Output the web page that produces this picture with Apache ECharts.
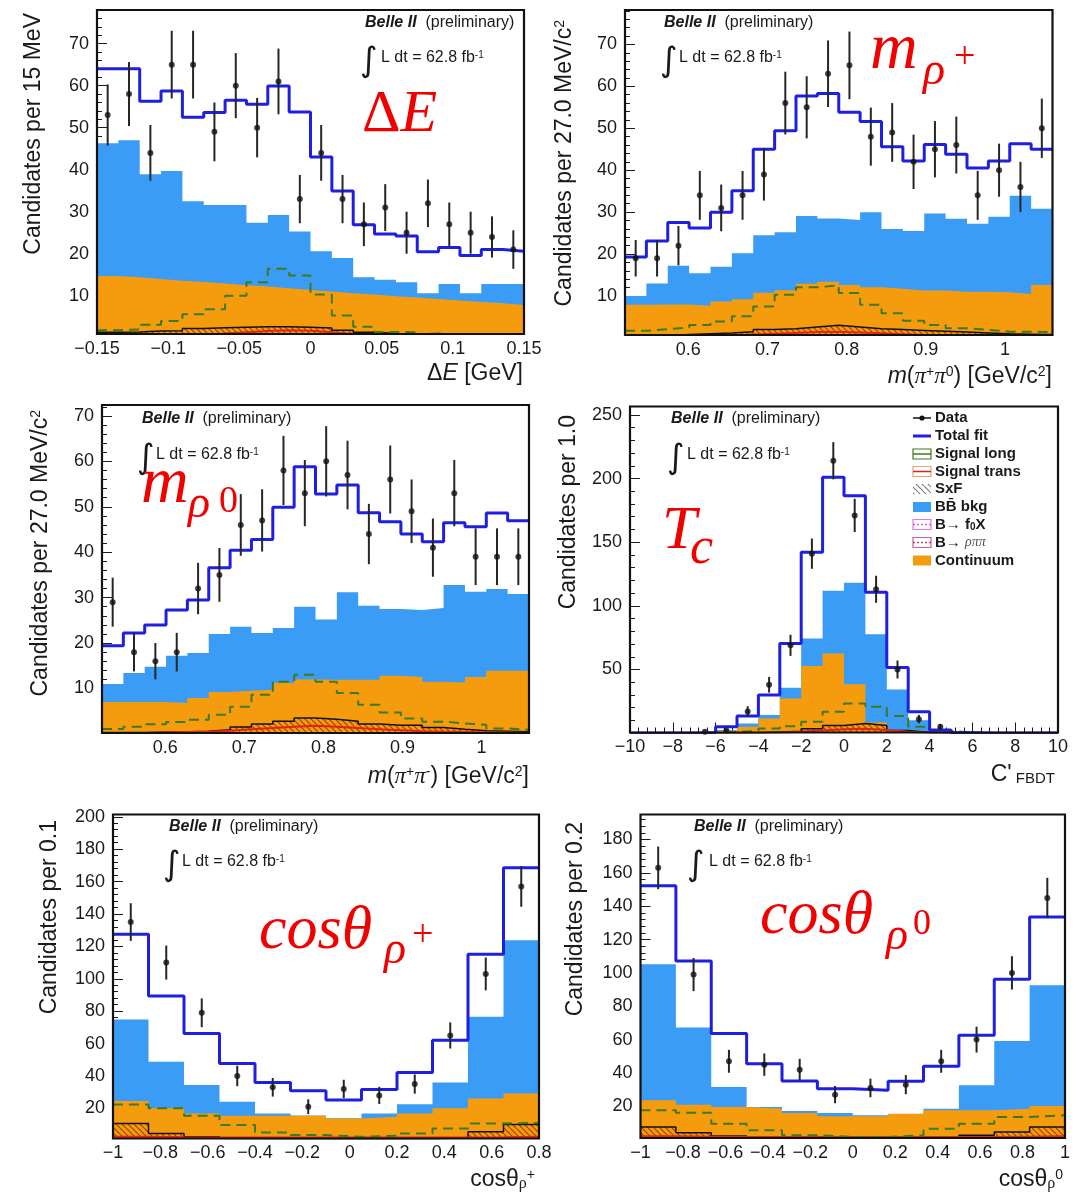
<!DOCTYPE html>
<html>
<head>
<meta charset="utf-8">
<script src="https://cdn.jsdelivr.net/npm/echarts@6/dist/echarts.min.js"></script>
<style>
html,body{margin:0;padding:0;background:#fff}
#main{width:1076px;height:1203px}
</style>
</head>
<body>
<div id="main"></div>
<script>
/** Delta E panel (20 bins, -0.15 .. 0.15 GeV) **/
var deData  = [53,58,44,65,65,49,60,50,61,33,44,33,27,31,25,32,27,25,24,21];
var deFit   = [64.0,64.0,56.3,58.7,52.5,53.6,56.5,55.6,59.9,53.7,43.0,34.9,26.9,24.7,24.2,20.5,21.5,19.6,21.0,20.6];
var deBB    = [46.3,47.0,38.9,39.7,32.5,31.6,31.6,27.4,29.2,25.3,20.6,19.0,14.4,13.8,13.2,10.6,12.8,10.6,12.8,12.8];
var deCont  = [14.7,14.4,14.0,13.6,13.3,12.9,12.5,12.2,11.8,11.4,11.0,10.6,10.3,9.9,9.6,9.2,8.9,8.5,8.2,7.8];
var deLong  = [1.8,2.0,3.1,4.0,5.6,6.8,10.0,13.2,16.4,14.8,10.3,5.3,2.6,1.4,1.3,0.8,0.6,0.5,0.4,0.3];
var deSxF   = [1.3,1.4,1.6,1.7,2.2,2.4,2.5,2.6,2.6,2.5,2.3,1.8,1.3,1.0,0.9,1.0,0.7,0.5,0.4,0.4];
var deTrans = [0.3,0.4,0.5,0.6,0.8,1.0,1.3,1.6,1.8,1.7,1.3,0.9,0.6,0.4,0.3,0.2,0.2,0.1,0.1,0.1];
var deXTicks = [-0.15,-0.1,-0.05,0,0.05,0.1,0.15];

/** m(pi+ pi0) panel (20 bins, 0.52 .. 1.06) **/
var mpData  = [19,19,22,34,31,34,39,56,55,63,65,48,49,42,45,46,34,40,36,50];
var mpFit   = [19.3,23.1,27.5,26.2,30.0,35.1,45.0,49.4,57.7,58.3,53.8,51.6,45.6,42.2,46.1,43.8,40.5,42.2,46.3,45.0];
var mpBB    = [10.0,13.0,17.2,15.4,17.0,20.2,24.5,25.2,29.1,28.5,28.1,30.0,26.0,25.5,29.7,28.4,27.2,28.9,33.9,30.8];
var mpCont  = [7.9,8.0,8.0,7.7,8.7,9.2,10.8,11.4,12.9,13.4,12.6,12.1,11.7,11.3,11.3,11.0,11.0,10.9,10.5,12.6];
var mpLong  = [1.7,2.1,2.5,3.1,3.9,5.2,7.5,10.3,12.1,12.5,10.7,7.9,5.9,4.1,3.1,2.3,1.9,1.5,1.5,1.4];
var mpSxF   = [0.5,0.6,0.8,1.0,1.2,1.5,2.0,2.2,2.6,3.0,2.6,2.2,2.0,1.8,1.6,1.4,1.2,1.0,0.9,0.8];
var mpTrans = [0.3,0.3,0.4,0.5,0.6,0.8,1.0,1.2,1.4,1.5,1.3,1.1,0.9,0.7,0.6,0.5,0.4,0.4,0.3,0.3];

/** m(pi+ pi-) panel (20 bins, 0.52 .. 1.06) **/
var mzData  = [29,18,16,18,32,35,46,47,58,53,60,57,44,56,49,41,53,39,39,39];
var mzFit   = [19.4,22.2,24.0,27.3,29.5,36.6,40.4,42.8,49.9,58.8,52.8,54.8,48.7,46.7,44.0,42.3,46.5,45.6,48.6,46.9];
var mzBB    = [11.0,13.4,14.8,17.2,17.8,22.0,23.6,22.2,23.3,28.0,25.2,31.2,28.2,27.5,27.3,27.7,32.8,31.3,31.9,30.8];
var mzCont  = [7.0,7.0,7.0,6.8,7.9,9.2,9.5,9.7,11.2,12.0,11.9,11.9,11.9,12.8,12.5,11.5,11.3,12.5,13.9,13.9];
var mzLong  = [1.1,1.6,2.1,2.6,3.1,4.2,6.0,8.6,11.5,13.0,11.5,9.0,6.4,4.7,3.4,2.7,2.3,2.0,1.2,0.9];
var mzSxF   = [0.3,0.3,0.4,0.5,0.6,0.9,1.5,2.2,2.8,3.5,3.2,2.8,2.2,1.9,1.9,1.4,1.0,0.7,0.6,0.5];
var mzTrans = [0.2,0.2,0.3,0.4,0.5,0.7,1.0,1.3,1.6,1.8,1.6,1.3,1.0,0.8,0.6,0.5,0.4,0.3,0.3,0.2];
var mXTicks = [0.6,0.7,0.8,0.9,1];
var mYTicks = [10,20,30,40,50,60,70];

/** C'FBDT panel (20 bins, -10 .. 10) **/
var tcData  = [0,0,0,1,2,17,38,69,141,214,171,113,50,11,5,0,0,0,0,0];
var tcFit   = [0,0,0,0.5,5.0,13.4,29.9,70.5,142.1,201.0,186.4,110.6,51.6,16.8,2.4,0.3,0,0,0,0];
var tcBB    = [0,0,0,0.3,2.4,7.6,14.2,35.6,74.4,111.9,118.2,77.6,34.3,10.2,1.8,0.2,0,0,0,0];
var tcCont  = [0,0,0,0.2,1.8,5.0,11.5,27.3,52.7,62.6,38.5,8.4,2.4,1.0,0.5,0,0,0,0,0];
var tcLong  = [0,0,0,0.2,0.8,1.8,3.7,5.5,8.9,16.8,23.3,20.7,13.4,5.0,1.8,0.3,0,0,0,0];
var tcSxF   = [0,0,0,0,0,0.3,0.8,1.5,3.5,6.0,7.5,6.0,2.0,0.5,0,0,0,0,0,0];
var tcTrans = [0,0,0,0,0,0.2,0.5,1.0,2.0,3.0,3.5,2.5,1.0,0.3,0,0,0,0,0,0];
var tcXTicks = [-10,-8,-6,-4,-2,0,2,4,6,8,10];
var tcYTicks = [50,100,150,200,250];

/** cos theta rho+ panel (12 bins, -1 .. 0.8) **/
var cpData  = [135,110,79,40,33,21,32,28,35,65,103,157];
var cpFit   = [127.5,89.3,66.2,47.7,36.0,30.9,25.1,31.7,42.2,62.1,115.2,168.5];
var cpBB    = [74.9,48.8,34.4,24.1,16.9,15.6,13.9,16.9,22.6,36.0,76.5,123.8];
var cpCont  = [24.5,20.0,16.9,15.4,15.4,15.4,13.8,14.8,16.9,20.0,26.1,29.2];
var cpLong  = [22.4,20.0,15.4,9.7,5.1,3.5,2.5,3.1,4.5,7.6,10.7,11.1];
var cpSxF   = [10.7,4.5,2.5,1.2,0.8,0.6,0.6,0.6,1.0,2.0,5.6,10.1];
var cpTrans = [2.5,2.2,2.0,2.0,2.0,2.0,2.0,2.0,2.0,2.0,2.2,2.5];
var cpXTicks = [-1,-0.8,-0.6,-0.4,-0.2,0,0.2,0.4,0.6,0.8];
var cpYTicks = [20,40,60,80,100,120,140,160,180,200];

/** cos theta rho0 panel (12 bins, -1 .. 1) **/
var czData  = [163,99,47,45,42,27,31,33,47,60,100,145];
var czFit   = [152.2,107.2,63.6,45.6,35.2,30.6,29.6,35.0,44.0,62.6,96.2,133.6];
var czBB    = [105.2,67.2,31.6,19.6,17.2,16.0,14.6,15.6,18.6,32.6,59.2,92.6];
var czCont  = [23.6,21.0,19.6,18.6,16.0,14.0,14.0,15.6,17.6,17.6,18.6,20.2];
var czLong  = [17.6,16.2,9.6,5.6,2.6,1.6,1.6,2.6,6.6,9.6,13.6,14.6];
var czSxF   = [7.6,4.2,2.2,1.0,0.8,0.6,0.6,0.8,1.0,2.6,4.6,7.6];
var czTrans = [2.0,1.8,1.6,1.6,1.6,1.6,1.6,1.6,1.6,1.6,1.8,2.0];
var czXTicks = [-1,-0.8,-0.6,-0.4,-0.2,0,0.2,0.4,0.6,0.8,1];
var czYTicks = [20,40,60,80,100,120,140,160,180];

var legendNames = ['Data','Total fit','Signal long','Signal trans','SxF','BB\u0304 bkg','B\u2192 f{sub|0}X','B\u2192 {g|\u03c1\u03c0\u03c0}','Continuum'];

var SANS = '"Liberation Sans", Arial, Helvetica, sans-serif';
var SERIF = '"Liberation Serif", "DejaVu Serif", serif';
var INK = '#1a1a1a';
var C_BB = '#3a9cf4', C_CONT = '#f59c0e', C_FIT = '#1f1fe0', C_LONG = '#3c7a1e', C_TRANS = '#e2231a', C_RED = '#f20000';

function makeHatch(color){
    var c = document.createElement('canvas');
    c.width = 6; c.height = 6;
    var g = c.getContext('2d');
    g.strokeStyle = color; g.lineWidth = 1.1;
    g.beginPath();
    [-6,0,6].forEach(function(o){ g.moveTo(o,0); g.lineTo(o+6,6); });
    g.stroke();
    return c;
}
var hatch = makeHatch('#9c3d00');
var greyHatch = makeHatch('#777');

var panels = [
    {box:[97,10,427,324], lo:-0.15, hi:0.15, n:20, ymin:0.9, ymax:78, xTicks:deXTicks, xMinor:0.01, yTicks:mYTicks, yMinor:2,
     data:deData, fit:deFit, bb:deBB, cont:deCont, sxf:deSxF, trans:deTrans, sig:deLong},
    {box:[625,10,427.5,325], lo:0.52, hi:1.06, n:20, ymin:0.7, ymax:78.2, xTicks:mXTicks, xMinor:0.02, yTicks:mYTicks, yMinor:2,
     data:mpData, fit:mpFit, bb:mpBB, cont:mpCont, sxf:mpSxF, trans:mpTrans, sig:mpLong},
    {box:[102,405,427,328], lo:0.52, hi:1.06, n:20, ymin:0.2, ymax:72.4, xTicks:mXTicks, xMinor:0.02, yTicks:mYTicks, yMinor:2,
     data:mzData, fit:mzFit, bb:mzBB, cont:mzCont, sxf:mzSxF, trans:mzTrans, sig:mzLong},
    {box:[630,406.5,428,326], lo:-10, hi:10, n:20, ymin:0.5, ymax:256.6, xTicks:tcXTicks, xMinor:0.4, yTicks:tcYTicks, yMinor:10,
     data:tcData, fit:tcFit, bb:tcBB, cont:tcCont, sxf:tcSxF, trans:tcTrans, sig:tcLong},
    {box:[113,814.5,426,324], lo:-1, hi:0.8, n:12, ymin:1.4, ymax:201.4, xTicks:cpXTicks, xMinor:0.04, yTicks:cpYTicks, yMinor:4,
     data:cpData, fit:cpFit, bb:cpBB, cont:cpCont, sxf:cpSxF, trans:cpTrans, sig:cpLong},
    {box:[640.5,814.5,424.5,323.5], lo:-1, hi:1, n:12, ymin:1, ymax:195, xTicks:czXTicks, xMinor:0.04, yTicks:czYTicks, yMinor:4,
     data:czData, fit:czFit, bb:czBB, cont:czCont, sxf:czSxF, trans:czTrans, sig:czLong}
];

function binEdges(lo, hi, n){
    var e = [];
    for (var i = 0; i <= n; i++) e.push(lo + (hi - lo) * i / n);
    return e;
}
function stepData(ed, vals){
    var d = vals.map(function(v, i){ return [ed[i], v]; });
    d.push([ed[ed.length - 1], vals[vals.length - 1]]);
    return d;
}
function minorVals(min, max, step){
    var out = [];
    for (var v = Math.ceil(min / step - 1e-9) * step; v <= max + 1e-9; v += step) out.push(+v.toFixed(4));
    return out;
}
function tickLabel(v){ return String(+(+v).toFixed(3)).replace('-', '\u2212'); }

var option = {animation:false, backgroundColor:'#fff', grid:[], xAxis:[], yAxis:[], series:[], graphic:[]};
var noLine = {show:false, onZero:false};

panels.forEach(function(p, k){
    option.grid.push({left:p.box[0], top:p.box[1], width:p.box[2], height:p.box[3]});
    var lbl = {fontSize:18, fontFamily:SANS, color:INK, formatter:tickLabel};
    var tk = {lineStyle:{color:INK, width:1}};
    option.xAxis.push({gridIndex:k, type:'value', position:'bottom', min:p.lo, max:p.hi, splitLine:{show:false}, axisLine:noLine,
        axisTick:Object.assign({show:true, inside:true, length:10, customValues:p.xTicks}, tk),
        axisLabel:Object.assign({customValues:p.xTicks, margin:6}, lbl)});
    option.xAxis.push({gridIndex:k, type:'value', position:'bottom', min:p.lo, max:p.hi, splitLine:{show:false}, axisLine:noLine,
        axisTick:Object.assign({show:true, inside:true, length:5, customValues:minorVals(p.lo, p.hi, p.xMinor)}, tk),
        axisLabel:{show:false}});
    option.yAxis.push({gridIndex:k, type:'value', position:'left', min:p.ymin, max:p.ymax, splitLine:{show:false}, axisLine:noLine,
        axisTick:Object.assign({show:true, inside:true, length:10, customValues:p.yTicks}, tk),
        axisLabel:Object.assign({customValues:p.yTicks, margin:8}, lbl)});
    option.yAxis.push({gridIndex:k, type:'value', position:'left', min:p.ymin, max:p.ymax, splitLine:{show:false}, axisLine:noLine,
        axisTick:Object.assign({show:true, inside:true, length:5, customValues:minorVals(p.ymin, p.ymax, p.yMinor)}, tk),
        axisLabel:{show:false}});

    var ed = binEdges(p.lo, p.hi, p.n);
    var ax = {xAxisIndex:2 * k, yAxisIndex:2 * k};
    function hist(vals, line, area, z){
        var s = Object.assign({type:'line', step:'end', symbol:'none', silent:true, data:stepData(ed, vals), lineStyle:line, z:z}, ax);
        if (area) s.areaStyle = Object.assign({opacity:1, origin:'start'}, area);
        return s;
    }
    option.series.push(hist(p.bb, {width:0}, {color:C_BB}, 1));
    option.series.push(hist(p.cont, {width:0}, {color:C_CONT}, 2));
    option.series.push(hist(p.sxf, {color:'#111', width:1.5}, {color:{image:hatch, repeat:'repeat'}}, 3));
    option.series.push(hist(p.trans, {color:C_TRANS, width:2}, null, 4));
    option.series.push(hist(p.sig, {color:C_LONG, width:2, type:[10,6]}, null, 5));
    option.series.push(hist(p.fit, {color:C_FIT, width:3}, null, 6));

    var pts = [];
    p.data.forEach(function(v, i){ if (v > 0) pts.push([(ed[i] + ed[i + 1]) / 2, v, Math.sqrt(v)]); });
    option.series.push(Object.assign({type:'custom', z:7, silent:true, data:pts,
        renderItem:function(params, api){
            var x = api.value(0), y = api.value(1), e = api.value(2);
            var a = api.coord([x, y - e]), b = api.coord([x, y + e]);
            return {type:'line', shape:{x1:a[0], y1:a[1], x2:b[0], y2:b[1]}, style:{stroke:'#262626', lineWidth:2}};
        }}, ax));
    option.series.push(Object.assign({type:'scatter', z:8, silent:true, symbol:'circle', symbolSize:6,
        itemStyle:{color:'#111'}, data:pts.map(function(q){ return [q[0], q[1]]; })}, ax));

    option.graphic.push({type:'rect', z:100, silent:true, shape:{x:p.box[0], y:p.box[1], width:p.box[2], height:p.box[3]},
        style:{fill:'none', stroke:'#111', lineWidth:2.2}});
});

/** texts **/
function T(x, y, text, o){
    o = o || {};
    return {type:'text', x:x, y:y, z:101, silent:true, rotation:o.rot || 0,
        style:{text:text, fontSize:o.fs || 16, fontFamily:o.ff || SANS, fontWeight:o.fw || 'normal', fontStyle:o.fst || 'normal',
               fill:o.fill || INK, align:o.align || 'left', verticalAlign:o.va || 'middle', rich:o.rich}};
}
var RT = {
    n:{fontSize:23, fontFamily:SANS, fill:INK},
    i:{fontSize:23, fontFamily:SANS, fontStyle:'italic', fill:INK},
    g:{fontSize:23, fontFamily:SERIF, fontStyle:'italic', fill:INK},
    s:{fontSize:14, fontFamily:SANS, fill:INK, verticalAlign:'top', lineHeight:14},
    sb:{fontSize:15, fontFamily:SANS, fill:INK, verticalAlign:'bottom', lineHeight:12},
    gb:{fontSize:16, fontFamily:SERIF, fill:INK, verticalAlign:'bottom', lineHeight:12}
};
var belleRich = {b:{fontSize:16, fontFamily:SANS, fontWeight:'bold', fontStyle:'italic', fill:INK},
                 r:{fontSize:16, fontFamily:SANS, fill:INK}};
var lumiRich = {t:{fontSize:16, fontFamily:SANS, fill:INK}, s:{fontSize:10, fontFamily:SANS, fill:INK, verticalAlign:'top', lineHeight:10}};

var G = option.graphic;
var bellePos = [[365,23],[664,23],[142,419],[671,419],[169,827],[694,827]];
var lumiPos = [[360,381,58],[660,679,58],[137,156,455],[667,687,455],[163,182,862],[687,709,862]];
bellePos.forEach(function(b){ G.push(T(b[0], b[1], '{b|Belle II}  {r|(preliminary)}', {rich:belleRich})); });
lumiPos.forEach(function(l){
    G.push(T(l[0], l[2] + 4, '\u222b', {fs:34, ff:'"DejaVu Sans", sans-serif'}));
    G.push(T(l[1], l[2], '{t|L dt = 62.8 fb}{s|-1}', {rich:lumiRich}));
});

// y-axis titles
var yTitles = [
    [34, 13, '{n|Candidates per 15 MeV}'],
    [565, 20, '{n|Candidates per 27.0 MeV/c}{s|2}'],
    [41, 410, '{n|Candidates per 27.0 MeV/c}{s|2}'],
    [569, 415, '{n|Candidates per 1.0}'],
    [50, 820, '{n|Candidates per 0.1}'],
    [576, 822, '{n|Candidates per 0.2}']
];
yTitles.forEach(function(t){ G.push(T(t[0], t[1], t[2], {rot:Math.PI / 2, align:'right', rich:RT})); });

// x-axis titles
G.push(T(523, 374, '{n|\u0394}{i|E}{n| [GeV]}', {align:'right', rich:RT}));
G.push(T(1052, 377, '{i|m}{n|(}{g|\u03c0}{s|+}{g|\u03c0}{s|0}{n|) [GeV/c}{s|2}{n|]}', {align:'right', rich:RT}));
G.push(T(529, 777, '{i|m}{n|(}{g|\u03c0}{s|+}{g|\u03c0}{s|-}{n|) [GeV/c}{s|2}{n|]}', {align:'right', rich:RT}));
G.push(T(1055, 775, '{n|C\'}{sb| FBDT}', {align:'right', rich:RT}));
G.push(T(535, 1180, '{n|cos\u03b8}{gb|\u03c1}{s|+}', {align:'right', rich:RT}));
G.push(T(1063, 1180, '{n|cos\u03b8}{gb|\u03c1}{s|0}', {align:'right', rich:RT}));

// red variable labels
var red = {fill:C_RED, ff:SERIF};
G.push(T(362, 115, '{u|\u0394}{e|E}', {rich:{u:{fontSize:60, fontFamily:SERIF, fill:C_RED}, e:{fontSize:60, fontFamily:SERIF, fontStyle:'italic', fill:C_RED}}}));
G.push(T(870, 51, 'm', Object.assign({fs:66, fst:'italic'}, red)));
G.push(T(923, 72, '\u03c1', Object.assign({fs:46, fst:'italic'}, red)));
G.push(T(954, 58, '+', Object.assign({fs:38}, red)));
G.push(T(141, 485, 'm', Object.assign({fs:66, fst:'italic'}, red)));
G.push(T(188, 505, '\u03c1', Object.assign({fs:46, fst:'italic'}, red)));
G.push(T(219, 502, '0', Object.assign({fs:38}, red)));
G.push(T(662, 532, 'T', Object.assign({fs:62, fst:'italic'}, red)));
G.push(T(690, 549, 'c', Object.assign({fs:52, fst:'italic'}, red)));
G.push(T(259, 932, 'cos\u03b8', Object.assign({fs:62, fst:'italic'}, red)));
G.push(T(384, 951, '\u03c1', Object.assign({fs:46, fst:'italic'}, red)));
G.push(T(412, 936, '+', Object.assign({fs:38}, red)));
G.push(T(760, 917, 'cos\u03b8', Object.assign({fs:62, fst:'italic'}, red)));
G.push(T(886, 937, '\u03c1', Object.assign({fs:46, fst:'italic'}, red)));
G.push(T(913, 925, '0', Object.assign({fs:36}, red)));

/** legend (C'FBDT panel) **/
var legendY = [418, 436, 454, 471.5, 489, 507, 524.5, 542.5, 560.5];
var lx = 913, lw = 18, ltx = 935;
var legRich = {sub:{fontSize:10, fontFamily:SANS, fontWeight:'bold', fill:INK, verticalAlign:'bottom', lineHeight:8},
               g:{fontSize:14, fontFamily:SERIF, fontStyle:'italic', fill:'#555'}};
function box(y, stroke, fill, mid, midDash){
    G.push({type:'rect', z:101, silent:true, shape:{x:lx, y:y - 5, width:lw, height:10}, style:{fill:fill, stroke:stroke, lineWidth:1.2}});
    if (mid) G.push({type:'line', z:102, silent:true, shape:{x1:lx, y1:y, x2:lx + lw, y2:y}, style:{stroke:mid, lineWidth:1.5, lineDash:midDash || null}});
}
legendY.forEach(function(y, i){
    if (i === 0){
        G.push({type:'line', z:101, silent:true, shape:{x1:lx, y1:y, x2:lx + lw, y2:y}, style:{stroke:'#111', lineWidth:1.5}});
        G.push({type:'circle', z:102, silent:true, shape:{cx:lx + lw / 2, cy:y, r:2.6}, style:{fill:'#111'}});
    } else if (i === 1){
        G.push({type:'line', z:101, silent:true, shape:{x1:lx, y1:y, x2:lx + lw, y2:y}, style:{stroke:C_FIT, lineWidth:3}});
    } else if (i === 2){ box(y, C_LONG, '#fff', C_LONG);
    } else if (i === 3){ box(y, '#e6a27c', '#fff', C_TRANS);
    } else if (i === 4){ box(y, 'none', {image:greyHatch, repeat:'repeat'});
    } else if (i === 5){ box(y, 'none', C_BB);
    } else if (i === 6){ box(y, '#e07ae0', '#fff', '#d060d0', [2,2]);
    } else if (i === 7){ box(y, '#c8609c', '#fff', '#c04090', [2,2]);
    } else { box(y, 'none', C_CONT); }
    G.push(T(ltx, y, legendNames[i], {fs:15, fw:'bold', rich:legRich}));
});

var chart = echarts.init(document.getElementById('main'), null, {renderer:'canvas'});
chart.setOption(option);
</script>
</body>
</html>
